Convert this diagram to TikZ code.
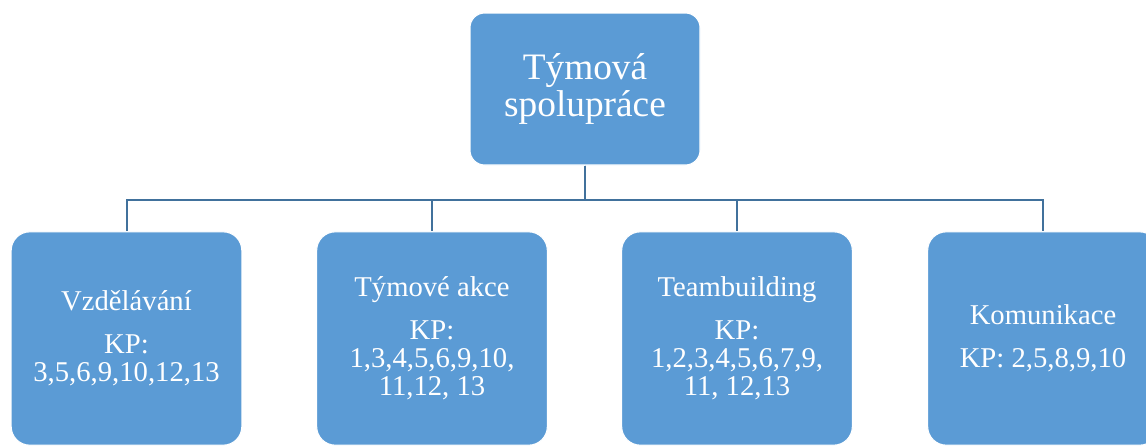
\documentclass[tikz,border=0pt]{standalone}
\usepackage{fontspec}
\setmainfont{Liberation Serif}
\usetikzlibrary{calc}
\definecolor{boxblue}{HTML}{5B9BD5}
\definecolor{lineblue}{HTML}{41719C}
\tikzset{%
    % common style for every box of the chart
    chart box/.style={%
        fill=boxblue,
        draw=white,
        line width=0.8pt,
        text=white,
        align=center,
        inner sep=0pt,
    },
    % style for the box on top
    head box/.style={%
        chart box,
        rounded corners=11pt,
        minimum width=172.5pt,
        minimum height=114pt,
        font=\fontsize{28}{28}\selectfont,
    },
    % style for the boxes of the second row
    item box/.style={%
        chart box,
        rounded corners=14pt,
        minimum width=173pt,
        minimum height=160pt,
        font=\fontsize{21.5}{21}\selectfont,
    },
    % style for the connecting lines
    link/.style={%
        draw=lineblue,
        line width=1.5pt,
    },
}

\begin{document}
\begin{tikzpicture}[x=0.75pt,y=0.75pt]
    % the bounding box has the size of the original picture,
    % the right and the lower boxes are cut off by it
    \useasboundingbox (0,0) rectangle (1146,-446);
    % variables
    %% distance from the head box down to the bus line
    \def\drop{34}
    %% vertical gap between title and KP line
    \def\gap{11pt}
    % head box
    \node (team) [head box] at (585,-89) {Týmová\\spolupráce};
    % second row
    \node (edu)  [item box] at (126.5,-338.5)
          {Vzdělávání\\[\gap]KP:\\3,5,6,9,10,12,13};
    \node (act)  [item box] at (432,-338.5)
          {Týmové akce\\[\gap]KP:\\1,3,4,5,6,9,10,\\11,12, 13};
    \node (tb)   [item box] at (737,-338.5)
          {Teambuilding\\[\gap]KP:\\1,2,3,4,5,6,7,9,\\11, 12,13};
    \node (com)  [item box] at (1043,-338.5)
          {Komunikace\\[\gap]KP: 2,5,8,9,10};
    % connections
    \foreach \child in {edu,act,tb,com}
        \draw [link] (team.south) -- ++(0,-\drop) -| (\child.north);
\end{tikzpicture}
\end{document}
